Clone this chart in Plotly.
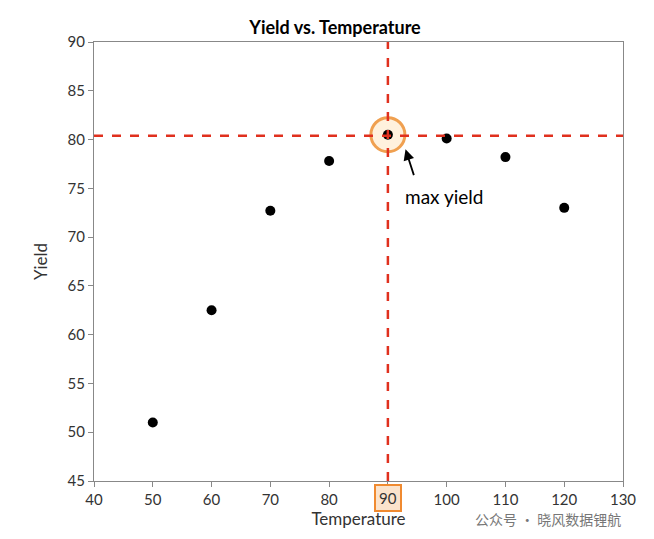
import plotly.graph_objects as go

# data
temperature = [50, 60, 70, 80, 90, 100, 110, 120]
yield_values = [51.0, 62.5, 72.7, 77.8, 80.5, 80.1, 78.2, 73.0]
max_temp = 90
max_yield = 80.4
x_ticks = [40, 50, 60, 70, 80, 90, 100, 110, 120, 130]

fig = go.Figure()

# glow ring round the maximum
fig.add_trace(go.Scatter(
    x=[max_temp], y=[80.5], mode="markers",
    marker=dict(size=34, color="rgba(255,200,120,0.25)",
                line=dict(color="#f0a050", width=3)),
    showlegend=False, hoverinfo="skip",
))

fig.add_trace(go.Scatter(
    x=temperature, y=yield_values, mode="markers",
    marker=dict(color="black", size=10),
    showlegend=False,
))

fig.add_hline(y=max_yield, line=dict(color="#e0301e", width=2.5, dash="dash"))
fig.add_vline(x=max_temp, line=dict(color="#e0301e", width=2.5, dash="dash"))

fig.add_annotation(
    x=93, y=79.0, ax=94.5, ay=76.2, xref="x", yref="y", axref="x", ayref="y",
    showarrow=True, arrowhead=2, arrowsize=1.2, arrowwidth=1.8, arrowcolor="black",
    text="",
)
fig.add_annotation(x=92.5, y=74.2, xanchor="left", showarrow=False,
                   text="max yield", font=dict(size=19, color="black"))

# highlighted tick box at 90 (replaces the plain tick label)
fig.add_annotation(x=max_temp, y=0, yref="paper", yanchor="top", yshift=-3,
                   showarrow=False, text="90", font=dict(size=15, color="#333"),
                   bgcolor="#fbe3cc", bordercolor="#f08a30", borderwidth=2, borderpad=3)

fig.add_annotation(x=1.0, y=-0.115, xref="paper", yref="paper", xanchor="right",
                   showarrow=False, text="公众号 · 晓风数据锂航",
                   font=dict(size=14, color="#777", family="Noto Sans CJK SC"))

fig.update_layout(
    width=654, height=539,
    title=dict(text="<b>Yield vs. Temperature</b>", x=0.5, y=0.975,
               font=dict(size=18, color="black")),
    plot_bgcolor="white", paper_bgcolor="white",
    font=dict(family="Lato, Open Sans, sans-serif", size=15, color="#333"),
    margin=dict(l=86, r=39, t=34, b=66),
    xaxis=dict(title=dict(text="Temperature", standoff=4, font=dict(size=17)),
               range=[40, 130], tickvals=x_ticks,
               ticktext=["" if t == max_temp else str(t) for t in x_ticks],
               showgrid=False, showline=True,
               linecolor="#888", mirror=True, ticks="outside", ticklen=5,
               tickcolor="#888", zeroline=False),
    yaxis=dict(title=dict(text="Yield", font=dict(size=17)),
               range=[45, 90], dtick=5, showgrid=False, showline=True,
               linecolor="#888", mirror=True, ticks="outside", ticklen=5,
               tickcolor="#888", zeroline=False),
)

fig.write_html("out.html")
